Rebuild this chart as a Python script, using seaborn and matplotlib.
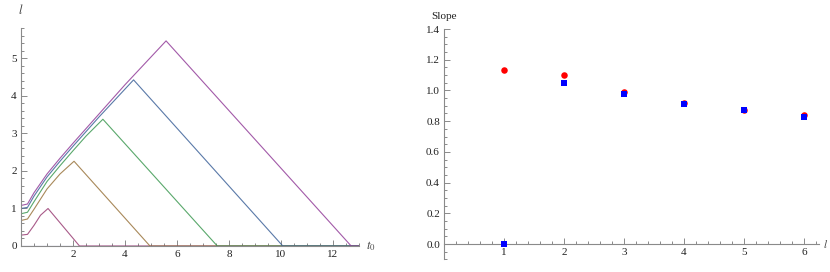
import numpy as np
import pandas as pd
import seaborn as sns
import matplotlib.pyplot as plt
from matplotlib.ticker import MultipleLocator

# left panel: pulse curves (x = t0, y = l)
curve_names = ["c0", "c1", "c2", "c3", "c4", "c5"]
c0_x = [0.0, 13.0]
c0_y = [0.0, 0.0]
c1_x = [0.0, 0.25, 0.5, 0.75, 1.04, 2.25, 13.0]
c1_y = [0.29, 0.31, 0.55, 0.82, 1.0, 0.0, 0.0]
c2_x = [0.0, 0.25, 0.5, 1.0, 1.5, 2.04, 4.96, 13.0]
c2_y = [0.68, 0.72, 0.98, 1.52, 1.92, 2.26, 0.0, 0.0]
c3_x = [0.0, 0.25, 0.5, 1.0, 1.5, 2.0, 2.5, 3.15, 7.55, 13.0]
c3_y = [0.86, 0.9, 1.18, 1.72, 2.14, 2.54, 2.93, 3.38, 0.0, 0.0]
c4_x = [0.0, 0.25, 0.5, 1.0, 1.5, 2.0, 3.0, 4.33, 10.07, 13.0]
c4_y = [1.0, 1.03, 1.33, 1.84, 2.26, 2.66, 3.44, 4.43, 0.0, 0.0]
c5_x = [0.0, 0.25, 0.5, 1.0, 1.5, 2.0, 3.0, 4.0, 5.58, 12.7, 13.0]
c5_y = [1.08, 1.12, 1.42, 1.92, 2.34, 2.74, 3.52, 4.3, 5.47, 0.0, 0.0]

# right panel: slope vs l
l_vals = [1, 2, 3, 4, 5, 6]
slope_red = [1.13, 1.10, 0.99, 0.92, 0.875, 0.84]
slope_blue = [0.0, 1.05, 0.98, 0.91, 0.875, 0.825]

# old Mathematica default plot colours
curve_colors = [(0.247, 0.24, 0.6), (0.6, 0.24, 0.456), (0.6, 0.456, 0.24),
                (0.24, 0.6, 0.32), (0.24, 0.384, 0.6), (0.571, 0.24, 0.6)]

sns.set_style("white")
plt.rcParams['font.family'] = ['Liberation Serif', 'DejaVu Serif']
plt.rcParams['mathtext.fontset'] = 'stix'

xs = [c0_x, c1_x, c2_x, c3_x, c4_x, c5_x]
ys = [c0_y, c1_y, c2_y, c3_y, c4_y, c5_y]
df = pd.concat([pd.DataFrame({"t0": x, "l": y, "curve": name})
                for name, x, y in zip(curve_names, xs, ys)], ignore_index=True)

fig = plt.figure(figsize=(8.3, 2.72), dpi=100)
ax1 = fig.add_axes([0.0253, 0.0956, 0.4072, 0.801])
ax2 = fig.add_axes([0.535, 0.0463, 0.4518, 0.847])

sns.lineplot(data=df, x="t0", y="l", hue="curve", hue_order=curve_names,
             palette=curve_colors, units="curve", estimator=None, sort=False,
             linewidth=0.8, alpha=0.85, legend=False, ax=ax1)

sns.scatterplot(x=l_vals, y=slope_red, color=(1, 0, 0), marker="o", s=22,
                linewidth=0, ax=ax2, zorder=3)
sns.scatterplot(x=l_vals, y=slope_blue, color=(0, 0, 1), marker="s", s=18,
                linewidth=0, ax=ax2, zorder=4)

axis_grey = "#8a8a8a"


def style_axes(ax, xlim, ylim, xmaj, xmin, ymaj, ymin):
    ax.set_xlim(*xlim)
    ax.set_ylim(*ylim)
    ax.spines['left'].set_position(('data', 0))
    ax.spines['bottom'].set_position(('data', 0))
    ax.spines['right'].set_visible(False)
    ax.spines['top'].set_visible(False)
    for s in ['left', 'bottom']:
        ax.spines[s].set_color(axis_grey)
        ax.spines[s].set_linewidth(0.8)
    ax.xaxis.set_major_locator(MultipleLocator(xmaj))
    ax.xaxis.set_minor_locator(MultipleLocator(xmin))
    ax.yaxis.set_major_locator(MultipleLocator(ymaj))
    ax.yaxis.set_minor_locator(MultipleLocator(ymin))
    ax.tick_params(which='both', direction='in', color=axis_grey, width=0.7,
                   bottom=True, left=True, top=False, right=False,
                   labelsize=8, labelcolor="#222222", pad=3)
    ax.tick_params(which='major', length=4)
    ax.tick_params(which='minor', length=2)
    ax.set_xlabel("")
    ax.set_ylabel("")


style_axes(ax1, (0, 13.0), (0, 5.81), 2, 0.5, 1, 0.2)
ax1.set_xticks([2, 4, 6, 8, 10, 12])
ax1.set_yticks([0, 1, 2, 3, 4, 5])
ax1.set_xticklabels(["2", "4", "6", "8", "10", "12"])
ax1.set_yticklabels(["0", "1", "2", "3", "4", "5"])
ax1.annotate("$l$", xy=(0, 1), xycoords="axes fraction", xytext=(0, 8),
             textcoords="offset points", ha="center", va="bottom", fontsize=9,
             color="#444444")
ax1.annotate("$t_0$", xy=(1, 0), xycoords="axes fraction", xytext=(5, 0),
             textcoords="offset points", ha="left", va="center", fontsize=9,
             color="#444444")

style_axes(ax2, (0, 6.25), (-0.1, 1.4), 1, 0.2, 0.2, 0.05)
ax2.set_xticks(l_vals)
ax2.set_yticks([0.0, 0.2, 0.4, 0.6, 0.8, 1.0, 1.2, 1.4])
ax2.set_yticklabels(["0.0", "0.2", "0.4", "0.6", "0.8", "1.0", "1.2", "1.4"])
ax2.annotate("Slope", xy=(0, 1), xycoords="axes fraction", xytext=(0, 6),
             textcoords="offset points", ha="center", va="bottom", fontsize=8,
             color="#222222")
ax2.annotate("$l$", xy=(1, 0.0667), xycoords="axes fraction", xytext=(3, 0),
             textcoords="offset points", ha="left", va="center", fontsize=8,
             color="#444444")

fig.savefig("out.png", dpi=100)
